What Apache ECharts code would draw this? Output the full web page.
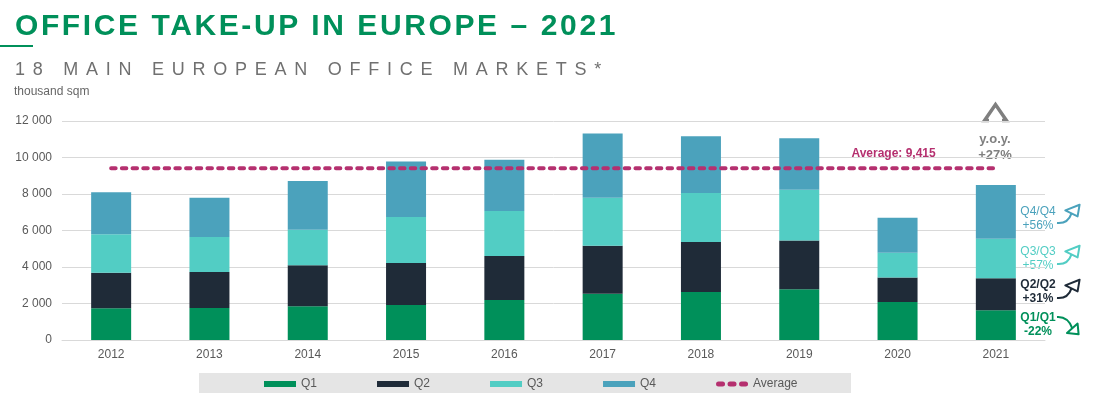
<!DOCTYPE html>
<html>
<head>
<meta charset="utf-8">
<script src="https://cdn.jsdelivr.net/npm/echarts@6/dist/echarts.min.js"></script>
<style>
  html, body { margin: 0; padding: 0; background: #fff; }
  #wrap { position: relative; width: 1093px; height: 398px; font-family: "Liberation Sans", Arial, sans-serif; }
  #chart { position: absolute; left: 0; top: 0; width: 1093px; height: 398px; }
  .title { position: absolute; left: 15px; top: 10px; font-size: 30px; line-height: 30px; font-weight: bold; color: #00905a; letter-spacing: 2.6px; white-space: nowrap; }
  .rule { position: absolute; left: 0; top: 45px; width: 33px; height: 2px; background: #00905a; }
  .subtitle { position: absolute; left: 15px; top: 60px; font-size: 18px; line-height: 18px; color: #707070; letter-spacing: 7.75px; white-space: nowrap; }
  .unit { position: absolute; left: 14px; top: 85px; font-size: 12px; line-height: 12px; color: #666; white-space: nowrap; }
</style>
</head>
<body>
<div id="wrap">
  <div id="chart"></div>
  <div class="title">OFFICE TAKE-UP IN EUROPE – 2021</div>
  <div class="rule"></div>
  <div class="subtitle">18 MAIN EUROPEAN OFFICE MARKETS*</div>
  <div class="unit">thousand sqm</div>
</div>
<script>
// 数据 (thousand sqm)
var years = ['2012', '2013', '2014', '2015', '2016', '2017', '2018', '2019', '2020', '2021'];
var q1 = [1740, 1755, 1850, 1920, 2190, 2540, 2630, 2780, 2085, 1630];
var q2 = [1950, 1975, 2250, 2300, 2410, 2630, 2740, 2670, 1335, 1755];
var q3 = [2110, 1920, 1940, 2520, 2470, 2620, 2690, 2780, 1355, 2160];
var q4 = [2300, 2140, 2670, 3040, 2800, 3530, 3110, 2820, 1920, 2945];
var average = [9415, 9415, 9415, 9415, 9415, 9415, 9415, 9415, 9415, 9415];
var yoy = [
  { label: 'Q4/Q4', change: '+56%', color: '#4ba2bc', bold: false },
  { label: 'Q3/Q3', change: '+57%', color: '#52cdc4', bold: false },
  { label: 'Q2/Q2', change: '+31%', color: '#1f2b38', bold: true },
  { label: 'Q1/Q1', change: '-22%', color: '#00905a', bold: true }
];
var totalChange = '+27%';

var colors = {
  q1: '#00905a',
  q2: '#1f2b38',
  q3: '#52cdc4',
  q4: '#4ba2bc',
  avg: '#b5306f'
};

var myChart = echarts.init(document.getElementById('chart'));

var fmt = function (v) {
  return String(v).replace(/\B(?=(\d{3})+(?!\d))/g, ' ');
};

// 右侧箭头
var arrowUp = function (x, y, color) {
  return {
    type: 'group', x: x, y: y, silent: true,
    children: [
      { type: 'bezierCurve', shape: { x1: 0, y1: 0, cpx1: 11, cpy1: 1, x2: 14.5, y2: -9.6 },
        style: { stroke: color, lineWidth: 2, fill: null } },
      { type: 'polygon', shape: { points: [[22.6, -18.3], [8.3, -12.6], [20.6, -6.6]] },
        style: { stroke: color, lineWidth: 2, fill: '#fff', lineJoin: 'round' } }
    ]
  };
};
var arrowDown = function (x, y, color) {
  return {
    type: 'group', x: x, y: y, silent: true,
    children: [
      { type: 'bezierCurve', shape: { x1: 0, y1: 0, cpx1: 11, cpy1: -0.7, x2: 15.3, y2: 11.3 },
        style: { stroke: color, lineWidth: 2, fill: null } },
      { type: 'polygon', shape: { points: [[21.6, 17.3], [10, 16], [20.6, 6.6]] },
        style: { stroke: color, lineWidth: 2, fill: '#fff', lineJoin: 'round' } }
    ]
  };
};

var labelTops = [205, 245, 278, 311];
var arrowStarts = [223, 264, 298, 317];
var graphics = [
  { type: 'rect', left: 199, top: 373, z: -10, silent: true,
    shape: { width: 652, height: 20 }, style: { fill: '#e5e5e5' } },
  { type: 'polyline', silent: true,
    shape: { points: [[989, 120.5], [984.5, 120.5], [995.5, 104.5], [1006.5, 120.5], [1002, 120.5]] },
    style: { stroke: '#7f7f7f', lineWidth: 3.5, fill: null, lineJoin: 'miter' } },
  { type: 'text', x: 995, y: 131, silent: true,
    style: { text: 'y.o.y.\n' + totalChange, fill: '#808080', font: 'bold 13px "Liberation Sans", Arial, sans-serif',
             align: 'center', lineHeight: 16 } }
];
yoy.forEach(function (d, i) {
  graphics.push({
    type: 'text', x: 1038, y: labelTops[i], silent: true,
    style: { text: d.label + '\n' + d.change, fill: d.color, align: 'center', lineHeight: 14,
             font: (d.bold ? 'bold ' : '') + '12px "Liberation Sans", Arial, sans-serif' }
  });
  graphics.push(i === 3 ? arrowDown(1057, arrowStarts[i], d.color) : arrowUp(1057, arrowStarts[i], d.color));
});

var barSeries = function (name, data, color) {
  return {
    name: name,
    type: 'bar',
    stack: 'total',
    barWidth: 40,
    data: data,
    itemStyle: { color: color },
    emphasis: { disabled: true }
  };
};

var option = {
  animation: false,
  textStyle: { fontFamily: '"Liberation Sans", Arial, sans-serif' },
  grid: { left: 62, right: 48, top: 121, bottom: 58 },
  legend: {
    left: 259,
    top: 373,
    itemWidth: 32,
    itemHeight: 6,
    itemGap: 60,
    selectedMode: false,
    textStyle: { color: '#595959', fontSize: 12 },
    data: [
      { name: 'Q1', icon: 'rect' },
      { name: 'Q2', icon: 'rect' },
      { name: 'Q3', icon: 'rect' },
      { name: 'Q4', icon: 'rect' },
      { name: 'Average', itemStyle: { color: colors.avg, opacity: 1 },
        icon: 'path://M2.5,0H6.5A2.5,2.5 0 0 1 6.5,5H2.5A2.5,2.5 0 0 1 2.5,0Z M14,0H18A2.5,2.5 0 0 1 18,5H14A2.5,2.5 0 0 1 14,0Z M25.5,0H29.5A2.5,2.5 0 0 1 29.5,5H25.5A2.5,2.5 0 0 1 25.5,0Z' }
    ]
  },
  xAxis: {
    type: 'category',
    data: years,
    axisLine: { lineStyle: { color: '#d9d9d9', width: 1 } },
    axisTick: { show: false },
    axisLabel: { color: '#595959', fontSize: 12, margin: 9 }
  },
  yAxis: {
    type: 'value',
    min: 0,
    max: 12000,
    interval: 2000,
    axisLine: { show: false },
    axisTick: { show: false },
    axisLabel: { color: '#595959', fontSize: 12, margin: 10, formatter: fmt },
    splitLine: { lineStyle: { color: '#d9d9d9', width: 1 } }
  },
  graphic: graphics,
  series: [
    barSeries('Q1', q1, colors.q1),
    barSeries('Q2', q2, colors.q2),
    barSeries('Q3', q3, colors.q3),
    barSeries('Q4', q4, colors.q4),
    {
      name: 'Average',
      type: 'line',
      symbol: 'circle',
      symbolSize: 0.01,
      showSymbol: true,
      z: 5,
      itemStyle: { color: colors.avg },
      lineStyle: { color: colors.avg, width: 4, type: [4.5, 6.2], cap: 'round' },
      emphasis: { disabled: true },
      data: average.map(function (v, i) {
        if (i !== 8) return v;
        return {
          value: v,
          label: {
            show: true,
            position: 'top',
            distance: 8,
            offset: [-4, 0],
            color: colors.avg,
            fontWeight: 'bold',
            fontSize: 12,
            formatter: function (p) { return 'Average: ' + p.value.toLocaleString('en-US'); }
          }
        };
      })
    }
  ]
};

myChart.setOption(option);
</script>
</body>
</html>
